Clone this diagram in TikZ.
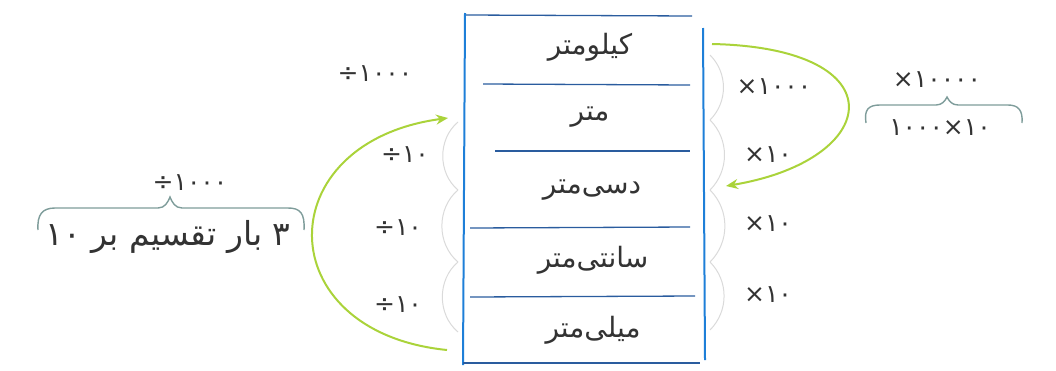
\documentclass[tikz,border=0pt]{standalone}
\usepackage{fontspec}
\setmainfont{DejaVu Sans}
\newfontfamily\arabicfont[Script=Arabic]{DejaVu Sans}
\TeXXeTstate=1
\usetikzlibrary{arrows.meta}
\definecolor{tblblue}{HTML}{1E7FD8}
\definecolor{sepblue}{HTML}{2A5C9E}
\definecolor{arcgreen}{HTML}{AAD33A}
\definecolor{bracegray}{HTML}{7E9C9A}
\definecolor{txt}{HTML}{333333}
\definecolor{faint}{HTML}{DADADA}
\newcommand{\dv}[1]{\mbox{÷}\mbox{#1}}
\newcommand{\tm}[1]{\mbox{×}\mbox{#1}}
\tikzset{
  rowtext/.style={text=txt,font=\arabicfont\fontsize{28}{32}\selectfont,inner sep=0pt},
  optext/.style={text=txt,font=\arabicfont\fontsize{25}{28}\selectfont,inner sep=0pt},
  bigtext/.style={text=txt,font=\arabicfont\fontsize{33}{36}\selectfont,inner sep=0pt},
  vline/.style={draw=tblblue,line width=2pt},
  sepline/.style={draw=sepblue,line width=1.3pt},
  bigarc/.style={draw=arcgreen,line width=2pt,-{Stealth[length=12pt,width=10pt]}},
  smallarc/.style={draw=faint,line width=1pt},
  bracestyle/.style={draw=bracegray,line width=1.4pt}
}
\begin{document}
\begin{tikzpicture}[x=1pt,y=-1pt]
\useasboundingbox (0,0) rectangle (1056,370);
% table
\draw[vline] (465,13) -- (463,365);
\draw[vline] (703,28) -- (705,360);
\draw[sepline] (466,15) -- (692,16);
\draw[sepline] (483,84) -- (690,85);
\draw[sepline] (495,151) -- (690,151);
\draw[sepline] (470,228) -- (690,227);
\draw[sepline] (470,297) -- (695,296);
\draw[sepline] (463,363) -- (700,363);
% row labels
\node[rowtext] (km) at (590,47) {\beginR کیلومتر\endR};
\node[rowtext] (m)  at (590,117) {\beginR متر\endR};
\node[rowtext] (dm) at (592,190) {\beginR دسی‌متر\endR};
\node[rowtext] (cm) at (593,260) {\beginR سانتی‌متر\endR};
\node[rowtext] (mm) at (593,330) {\beginR میلی‌متر\endR};
% anchor coordinates
\coordinate (Lmm) at (447,350);
\coordinate (Lm) at (448,118);
\coordinate (Rkm) at (712,44);
\coordinate (Rdm) at (726,186);
\coordinate (l1) at (458,122);
\coordinate (l2) at (458,190);
\coordinate (l3) at (458,262);
\coordinate (l4) at (458,332);
\coordinate (r0) at (710,55);
\coordinate (r1) at (710,120);
\coordinate (r2) at (710,190);
\coordinate (r3) at (710,262);
\coordinate (r4) at (710,330);
% faint small arcs
\draw[smallarc] (l1) to[bend right=50] (l2);
\draw[smallarc] (l2) to[bend right=50] (l3);
\draw[smallarc] (l3) to[bend right=50] (l4);
\draw[smallarc] (r0) to[bend left=45] (r1);
\draw[smallarc] (r1) to[bend left=45] (r2);
\draw[smallarc] (r2) to[bend left=45] (r3);
\draw[smallarc] (r3) to[bend left=45] (r4);
% big green arcs
\draw[bigarc] (Lmm) .. controls (268,332) and (268,142) .. (Lm);
\draw[bigarc] (Rkm) .. controls (900,48) and (882,160) .. (Rdm);
% left labels
\node[optext] (d1000) at (375,74) {\dv{۱۰۰۰}};
\node[optext] (d10a) at (405,155) {\dv{۱۰}};
\node[optext] (d10b) at (398,228) {\dv{۱۰}};
\node[optext] (d10c) at (398,305) {\dv{۱۰}};
% right labels
\node[optext] (t1000) at (774,87) {\tm{۱۰۰۰}};
\node[optext] (t10a) at (768,155) {\tm{۱۰}};
\node[optext] (t10b) at (768,224) {\tm{۱۰}};
\node[optext] (t10c) at (768,295) {\tm{۱۰}};
% right brace group
\node[optext] (t10000) at (937,80) {\tm{۱۰۰۰۰}};
\node[optext] (prod) at (940,128) {\mbox{۱۰۰۰}\mbox{×}\mbox{۱۰}};
\draw[bracestyle] (866,123) .. controls (864,110) and (868,105) .. (880,105)
  -- (936,105) .. controls (942,105) and (945,101) .. (947,97)
  .. controls (949,101) and (952,105) .. (958,105)
  -- (1008,105) .. controls (1018,105) and (1023,110) .. (1022,123);
% left brace group
\node[optext] (dd1000) at (190,183) {\dv{۱۰۰۰}};
\node[bigtext] (three) at (168,237) {\beginR\mbox{۳} \mbox{بار} \mbox{تقسیم} \mbox{بر} \mbox{۱۰}\endR};
\draw[bracestyle] (38,230) .. controls (37,215) and (42,208) .. (55,208)
  -- (158,208) .. controls (165,208) and (168,202) .. (170,197)
  .. controls (172,202) and (175,208) .. (182,208)
  -- (288,208) .. controls (300,208) and (305,213) .. (304,230);
\end{tikzpicture}
\end{document}
